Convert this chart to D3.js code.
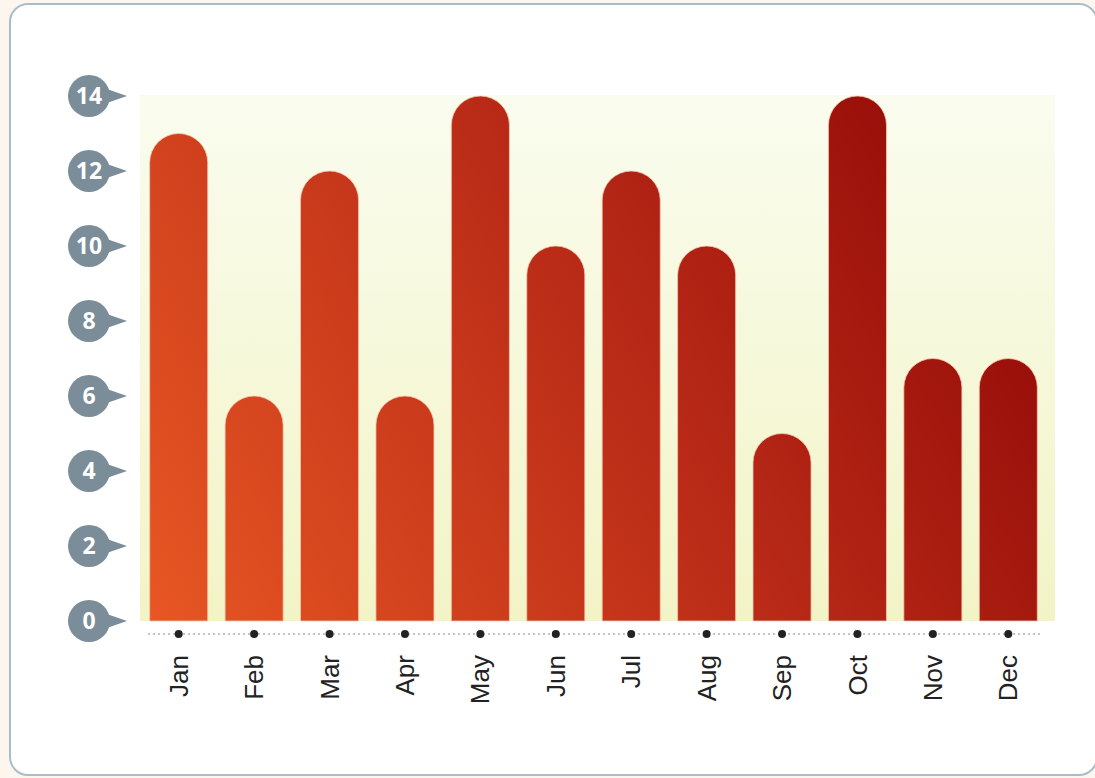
<!DOCTYPE html>
<html><head><meta charset="utf-8">
<script src="https://cdn.jsdelivr.net/npm/d3@7"></script>
<style>
html,body{margin:0;padding:0;background:#fdf6ee;}
svg{display:block;}
</style></head>
<body>
<svg id="c" width="1095" height="778"></svg>
<script>
const categories = ["Jan","Feb","Mar","Apr","May","Jun","Jul","Aug","Sep","Oct","Nov","Dec"];
const values = [13,6,12,6,14,10,12,10,5,14,7,7];
const yTicks = [0,2,4,6,8,10,12,14];

const svg = d3.select("#c");
const plot = {left:140, right:1055, top:96, bottom:621};

const x = d3.scaleBand().domain(categories).range([141,1046]).paddingInner(0.23).paddingOuter(0.115);
const y = d3.scaleLinear().domain([0,14]).range([plot.bottom, plot.top]);

const defs = svg.append("defs");
const bg = defs.append("linearGradient").attr("id","bg").attr("x1",0).attr("y1",0).attr("x2",0).attr("y2",1);
bg.append("stop").attr("offset",0).attr("stop-color","#fafcef");
bg.append("stop").attr("offset",1).attr("stop-color","#f2f4c6");
const bar = defs.append("linearGradient").attr("id","bar").attr("gradientUnits","userSpaceOnUse")
  .attr("x1",140).attr("y1",621).attr("x2",1055).attr("y2",96);
bar.append("stop").attr("offset",0).attr("stop-color","#e85723");
bar.append("stop").attr("offset",0.5).attr("stop-color","#bb2c18");
bar.append("stop").attr("offset",1).attr("stop-color","#8c0404");

// card
svg.append("rect").attr("x",10).attr("y",4).attr("width",1087).attr("height",771)
  .attr("rx",18).attr("fill","#ffffff").attr("stroke","#a9bcc8").attr("stroke-width",2);

// plot background
svg.append("rect").attr("x",plot.left).attr("y",plot.top-1).attr("width",plot.right-plot.left)
  .attr("height",plot.bottom-plot.top+1).attr("fill","url(#bg)");

// bars
const bw = x.bandwidth();
const r = bw/2;
svg.append("g").selectAll("path").data(categories).join("path")
  .attr("d",(c,i)=>{
    const x0 = x(c), x1 = x0+bw, yt = y(values[i]), yb = y(0);
    return `M${x0},${yb} L${x0},${yt+r} A${r},${r} 0 0 1 ${x1},${yt+r} L${x1},${yb} Z`;
  })
  .attr("fill","url(#bar)").attr("stroke","#f4c9b0").attr("stroke-width",0.8);

// x axis: dotted line and dots
svg.append("line").attr("x1",148).attr("x2",1040).attr("y1",634).attr("y2",634)
  .attr("stroke","#8a8a8a").attr("stroke-width",1).attr("stroke-dasharray","2,3");
svg.append("g").selectAll("circle").data(categories).join("circle")
  .attr("cx",c=>x(c)+bw/2).attr("cy",634).attr("r",4).attr("fill","#222");
svg.append("g").selectAll("text").data(categories).join("text")
  .attr("transform",c=>`translate(${x(c)+bw/2},655) rotate(-90)`)
  .attr("text-anchor","end").attr("dy","0.35em").attr("font-family","Liberation Sans, Arial, sans-serif")
  .attr("font-size",26).attr("fill","#222").text(c=>c);

// y axis bubbles
const yg = svg.append("g").selectAll("g").data(yTicks).join("g")
  .attr("transform",d=>`translate(89,${y(d)})`);
yg.append("path").attr("d","M12,-9 L38,0 L12,9 Z").attr("fill","#7b8d99");
yg.append("circle").attr("r",21).attr("fill","#7b8d99");
yg.append("text").attr("text-anchor","middle").attr("dy","0.36em")
  .attr("font-family","Open Sans, sans-serif").attr("font-weight","bold")
  .attr("font-size",23).attr("fill","#fff").text(d=>d);
</script>
</body></html>
